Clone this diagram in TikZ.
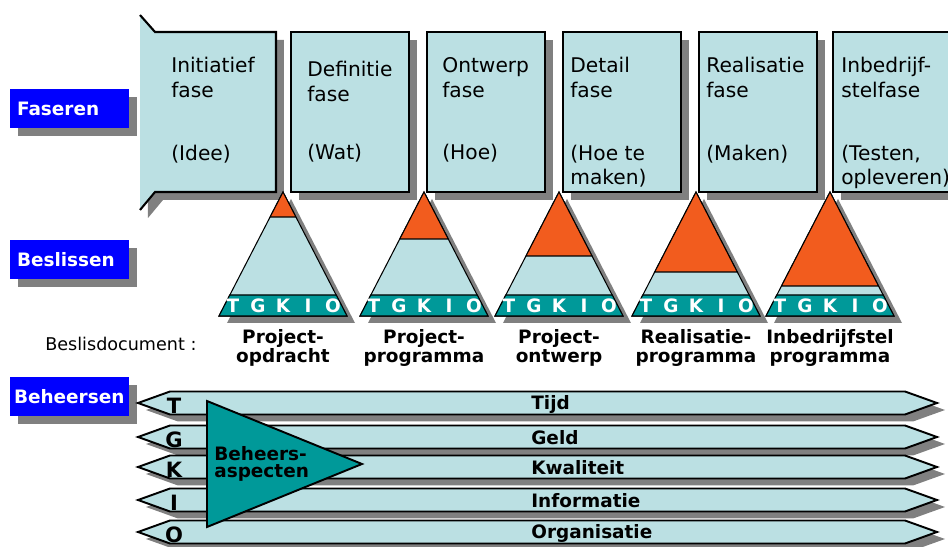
\documentclass[tikz,border=0pt]{standalone}
\usepackage{fontspec}
\setmainfont{DejaVu Sans}
\usetikzlibrary{positioning}
\usetikzlibrary{shadows}
\definecolor{lichtblauw}{RGB}{187,224,227}
\definecolor{oranje}{RGB}{242,92,30}
\definecolor{petrol}{RGB}{0,153,153}
\definecolor{grijs}{RGB}{128,128,128}
\definecolor{fblauw}{RGB}{0,0,255}

\begin{document}
\begin{tikzpicture}[x=0.02cm,y=-0.02cm,font=\fontsize{11.5}{14.2}\selectfont]
			\tikzstyle{schaduw}=[drop shadow={shadow xshift=0.16cm,shadow yshift=-0.16cm,opacity=1,fill=grijs}]
			\tikzstyle{fase}=[fill=lichtblauw,line width=1.2pt,schaduw]
			\tikzstyle{fasetekst}=[anchor=north west,inner sep=0pt,align=left]
			\tikzstyle{blauwvak}=[fill=fblauw,text=white,font=\bfseries\fontsize{10.5}{12}\selectfont,
				minimum height=0.78cm,text width=2.1cm,inner xsep=0.14cm,align=left,schaduw]
			\tikzstyle{driehoek}=[fill=lichtblauw,line width=0.6pt,drop shadow={shadow xshift=0.16cm,shadow yshift=-0.14cm,opacity=1,fill=grijs}]
			\tikzstyle{vet}=[inner sep=0pt,font=\bfseries\fontsize{10.5}{10.8}\selectfont]
			\tikzstyle{balk}=[fill=lichtblauw,line width=1.1pt,drop shadow={shadow xshift=0.16cm,shadow yshift=-0.14cm,opacity=1,fill=grijs}]
			
			\useasboundingbox (0,0) rectangle (948,547);
			\clip (0,0) rectangle (948,547);
			
			% fasen
			\fill[fase] (140,15) -- (155,32) -- (276,32) -- (276,192) -- (155,192) -- (140,210) -- cycle;
			\draw[line width=1.2pt] (140,15) -- (155,32) -- (276,32) -- (276,192) -- (155,192) -- (140,210);
			\foreach \x in {291,427,563,699,833}
			\filldraw[fase] (\x,32) rectangle ++(118,160);
			
			\node[fasetekst] (f1) at (171,57) {Initiatief\\fase\\[21.3pt](Idee)};
			\node[fasetekst] (f2) at (307,61) {Definitie\\fase\\[19pt](Wat)};
			\node[fasetekst] (f3) at (442,57) {Ontwerp\\fase\\[21.3pt](Hoe)};
			\node[fasetekst] (f4) at (570,57) {Detail\\fase\\[21.3pt](Hoe te\\maken)};
			\node[fasetekst] (f5) at (706,57) {Realisatie\\fase\\[21.3pt](Maken)};
			\node[fasetekst] (f6) at (841,57) {Inbedrijf-\\stelfase\\[21.3pt](Testen,\\opleveren)};
			
			% labels links
			\node[blauwvak] (faseren)   at (69.5,108.5) {Faseren};
			\node[blauwvak] (beslissen) at (69.5,259.5) {Beslissen};
			\node[blauwvak,inner xsep=0.08cm,text width=2.22cm] (beheersen) at (69.5,396.5) {Beheersen};
			\node[anchor=west,inner sep=0pt,font=\fontsize{10}{12}\selectfont] (beslisdoc) at (45,344) {Beslisdocument :};
			
			% beslisdocumenten
			\foreach \cx/\oy/\doc in {283/217/{Project-\\opdracht},424/239/{Project-\\programma},
				559/256/{Project-\\ontwerp},696/272/{Realisatie-\\programma},830/286/{Inbedrijfstel\\programma}}{
				\pgfmathsetmacro\ho{64*(\oy-192)/124}
				\filldraw[driehoek] (\cx,192) -- (\cx+64,316) -- (\cx-64,316) -- cycle;
				\filldraw[fill=oranje,line width=0.6pt] (\cx,192) -- (\cx+\ho,\oy) -- (\cx-\ho,\oy) -- cycle;
				\filldraw[fill=petrol,line width=0.6pt] (\cx-53.2,295) -- (\cx+53.2,295) -- (\cx+64,316) -- (\cx-64,316) -- cycle;
				\foreach \l [count=\i] in {T,G,K,I,O}
				\node[vet,text=white] (l\cx\l) at (\cx-75+25*\i,306) {\l};
				\node[vet,anchor=north,align=center] (d\cx) at (\cx,329) {\doc};
			}
			
			% beheersaspecten
			\foreach \y/\l/\naam in {403/T/Tijd,437/G/Geld,467/K/Kwaliteit,500/I/Informatie,532/O/Organisatie}{
				\filldraw[balk] (170,\y-11.5) -- (905,\y-11.5) -- (937,\y) -- (905,\y+11.5) -- (170,\y+11.5) -- (138,\y) -- cycle;
				\node[vet,font=\bfseries\fontsize{12}{12}\selectfont] (b\l) at (174,\y+3) {\l};
				\node[vet,anchor=west] (n\l) at (531,\y+1) {\naam};
			}
			\filldraw[fill=petrol,line width=1.1pt] (207,401) -- (362,464) -- (207,527) -- cycle;
			\node[vet,anchor=north west,align=left,font=\bfseries\fontsize{10.5}{9.6}\selectfont] (aspecten) at (214,446) {Beheers-\\aspecten};
			
			;
			\end{tikzpicture}
\end{document}
